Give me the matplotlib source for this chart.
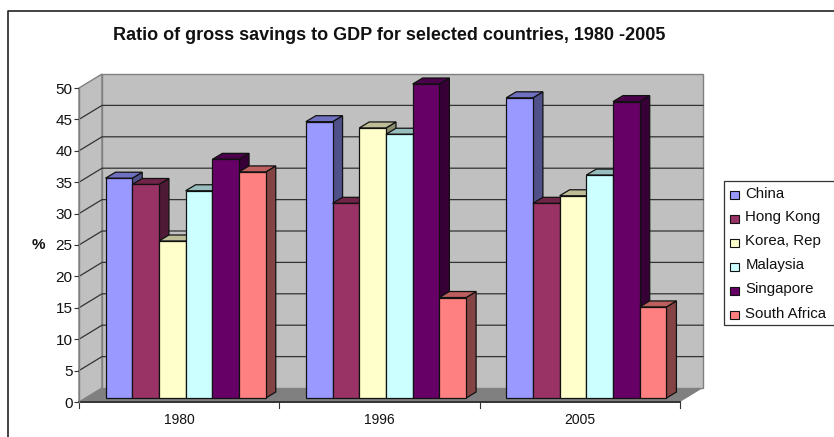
#!/usr/bin/env python3
# -*- coding: utf-8 -*-
import numpy as np
from matplotlib import pyplot as plt
from matplotlib.patches import Polygon, Rectangle

years = ['1980', '1996', '2005']
countries = ['China', 'Hong Kong', 'Korea, Rep', 'Malaysia', 'Singapore', 'South Africa']
china = [35, 44, 47.8]
hong_kong = [34, 31, 31]
korea = [25, 43, 32.2]
malaysia = [33, 42, 35.5]
singapore = [38, 50, 47.2]
south_africa = [36, 16, 14.5]
series = [china, hong_kong, korea, malaysia, singapore, south_africa]

front = ['#9999FF', '#993366', '#FFFFCC', '#CCFFFF', '#660066', '#FF8080']
top = ['#7070C0', '#702548', '#BDBD98', '#97BDBD', '#4B004B', '#BD5F5F']
side = ['#50508A', '#4F1A36', '#8A8A6C', '#6C8A8A', '#360036', '#854444']

W, H = 834, 437
plt.rcParams['font.family'] = ['Liberation Sans', 'DejaVu Sans']

fig = plt.figure(figsize=(W / 100, H / 100), dpi=100)

# frame round the whole chart, in pixels
bg = fig.add_axes([0, 0, 1, 1])
bg.set_xlim(0, W)
bg.set_ylim(H, 0)
bg.axis('off')
bg.plot([8.5, 8.5, W], [H, 11, 11], color='#222222', lw=1.2)

# front plane of the oblique box: one unit in x is a year group, y is percent
left, right, ytop, ybot = 79, 680, 88, 402
ax = fig.add_axes([left / W, 1 - ybot / H, (right - left) / W, (ybot - ytop) / H])
ax.set_xlim(0, 3)
ax.set_ylim(0, 50)
ax.patch.set_visible(False)
for s in ['top', 'right', 'bottom']:
    ax.spines[s].set_visible(False)
ax.spines['left'].set_color('#808080')
ax.spines['left'].set_linewidth(1.0)

xpx = 3 / (right - left)
ypx = 50 / (ybot - ytop)
depth_x, depth_y = 23 * xpx, 14 * ypx


def poly(pts, fc, ec='none', lw=0.0, z=1):
    ax.add_patch(Polygon(pts, closed=True, fc=fc, ec=ec, lw=lw, zorder=z, clip_on=False))


# walls and floor
poly([(0, 0), (depth_x, depth_y), (depth_x, 50 + depth_y), (0, 50)], '#C0C0C0', '#808080', 1.0)
poly([(depth_x, depth_y), (3 + depth_x, depth_y), (3 + depth_x, 50 + depth_y), (depth_x, 50 + depth_y)],
     '#C0C0C0', '#808080', 1.0)
poly([(0, 0), (depth_x, depth_y), (3 + depth_x, depth_y), (3, 0)], '#808080', z=1.5)

# gridlines run along the back wall and down the side wall
ticks = np.arange(0, 55, 5)
for t in ticks[1:-1]:
    ax.plot([0, depth_x, 3 + depth_x], [t, t + depth_y, t + depth_y], color='#333333', lw=0.9,
            zorder=2, clip_on=False)
ax.plot([0, 3], [0, 0], color='#333333', lw=1.4, zorder=2.5, clip_on=False)
for i in range(4):
    ax.plot([i, i], [0, -6 * ypx], color='#333333', lw=0.8, clip_on=False)

ax.set_yticks(ticks)
ax.set_xticks([])
ax.tick_params(axis='y', length=3.5, width=0.8, color='#333333', labelsize=11, labelcolor='#111111', pad=1)
for i, y in enumerate(years):
    ax.text(i + 0.5, -18 * ypx, y, ha='center', va='center', fontsize=10, color='#111111')
ax.text(-41 * xpx, 25, '%', ha='center', va='center', fontsize=11, fontweight='bold', color='#111111')

# bars in the middle slice of the box depth
bw = 0.1333
margin = 0.1
off_x, off_y = 6.5 * xpx, 4 * ypx
bar_dx, bar_dy = 10 * xpx, 6 * ypx
for g in range(3):
    for k in range(6):
        v = series[k][g]
        x0 = g + margin + k * bw + off_x
        x1 = x0 + bw
        y0 = off_y
        y1 = v + off_y
        z = 3 + k * 0.1 + g
        poly([(x1, y0), (x1 + bar_dx, y0 + bar_dy), (x1 + bar_dx, y1 + bar_dy), (x1, y1)],
             side[k], '#111111', 0.9, z)
        poly([(x0, y1), (x0 + bar_dx, y1 + bar_dy), (x1 + bar_dx, y1 + bar_dy), (x1, y1)],
             top[k], '#111111', 0.9, z)
        poly([(x0, y0), (x1, y0), (x1, y1), (x0, y1)], front[k], '#111111', 0.9, z + 0.01)

# legend, its right side runs off the edge
bg.add_patch(Rectangle((724, 181), 120, 144, fc='white', ec='#333333', lw=0.9, clip_on=True))
for k, name in enumerate(countries):
    yy = 193.5 + k * 24
    bg.add_patch(Rectangle((730.5, yy - 3), 9, 8, fc=front[k], ec='#111111', lw=0.8))
    bg.text(745.5, yy, name, ha='left', va='center', fontsize=10.8, color='#111111')

bg.text(389, 35, 'Ratio of gross savings to GDP for selected countries, 1980 -2005',
        ha='center', va='center', fontsize=13, fontweight='bold', color='#111111')

plt.savefig('out.png', dpi=100)
